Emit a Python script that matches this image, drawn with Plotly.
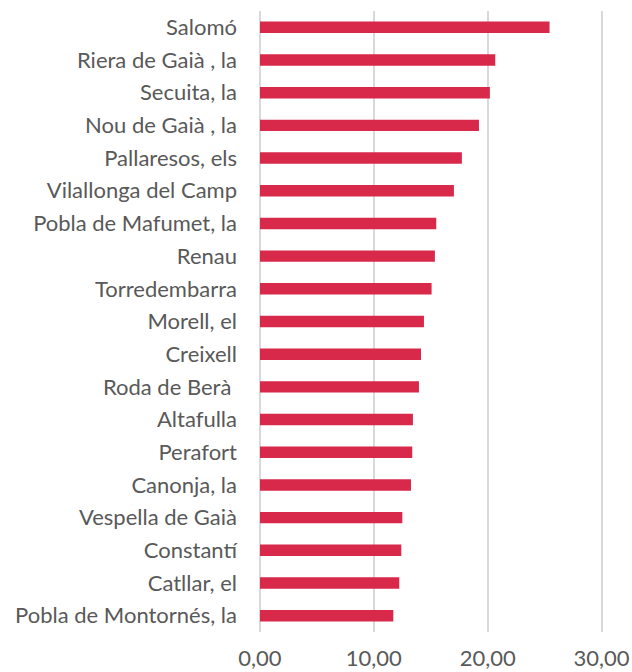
import plotly.graph_objects as go

municipis = [
    "Salomó", "Riera de Gaià , la", "Secuita, la", "Nou de Gaià , la",
    "Pallaresos, els", "Vilallonga del Camp", "Pobla de Mafumet, la", "Renau",
    "Torredembarra", "Morell, el", "Creixell", "Roda de Berà ", "Altafulla",
    "Perafort", "Canonja, la", "Vespella de Gaià", "Constantí", "Catllar, el",
    "Pobla de Montornés, la",
]
valors = [
    25.43, 20.66, 20.19, 19.23, 17.73, 17.03, 15.48, 15.36, 15.07, 14.40,
    14.14, 13.96, 13.43, 13.37, 13.26, 12.50, 12.41, 12.23, 11.71,
]
tick_vals = [0, 10, 20, 30]
tick_text = ["0,00", "10,00", "20,00", "30,00"]

fig = go.Figure(go.Bar(
    x=valors, y=municipis, orientation="h",
    marker=dict(color="#D8294B", line=dict(width=0)),
    width=0.35,
))

font_family = "Lato, 'Open Sans', sans-serif"
fig.update_layout(
    width=632, height=672,
    margin=dict(l=260, r=27, t=11, b=40),
    plot_bgcolor="white", paper_bgcolor="white",
    showlegend=False,
    font=dict(family=font_family, size=22, color="#595959"),
    xaxis=dict(
        range=[0, 30.3], tickvals=tick_vals, ticktext=tick_text,
        showgrid=True, gridcolor="#D9D9D9", gridwidth=1.5,
        zeroline=True, zerolinecolor="#D9D9D9", zerolinewidth=1.5,
        showline=False, ticks="", ticklabelstandoff=11,
        tickfont=dict(size=22, color="#595959"),
        automargin=False,
    ),
    yaxis=dict(
        autorange="reversed", showgrid=False, showline=False, ticks="",
        ticklabelstandoff=22,
        tickfont=dict(size=22, color="#595959"),
        automargin=False,
    ),
)

fig.write_html("out.html", config={"displayModeBar": False},
               post_script="document.body.style.margin='0';")
